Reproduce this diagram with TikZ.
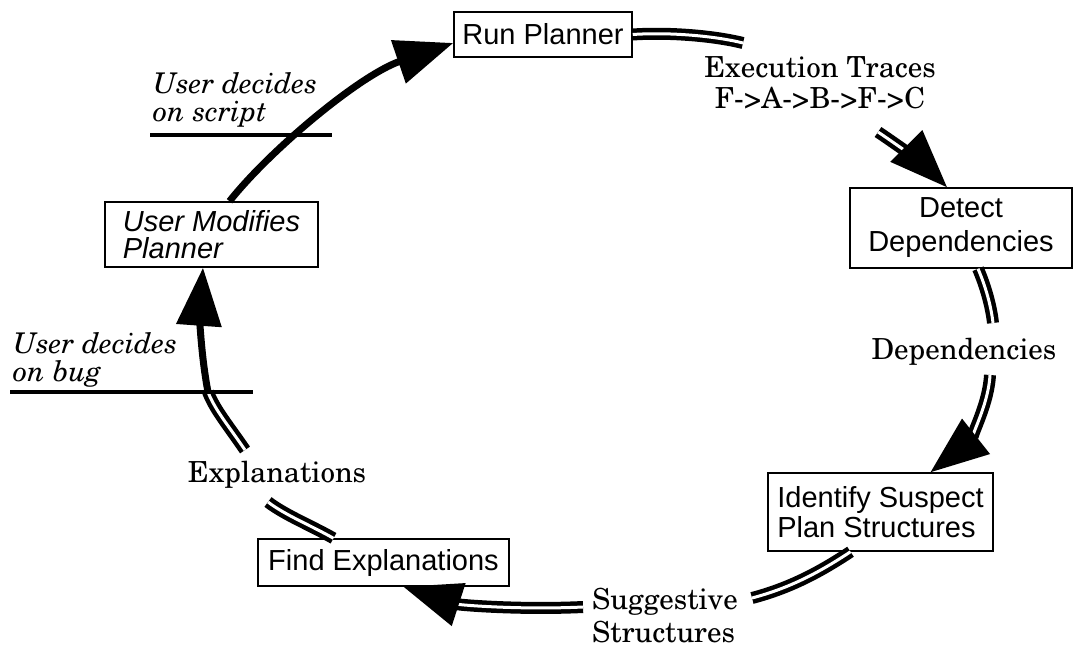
\documentclass[tikz,border=0pt]{standalone}
\usepackage[T1]{fontenc}
\usepackage{fontspec}
\setsansfont{Liberation Sans}
\usetikzlibrary{arrows.meta,calc}
\newcommand{\chr}{\fontencoding{T1}\fontfamily{pnc}\fontseries{m}\fontshape{n}\selectfont}
\newcommand{\chit}{\fontencoding{T1}\fontfamily{pnc}\fontseries{m}\fontshape{it}\selectfont}
\begin{document}
\begin{tikzpicture}[x=1pt,y=-1pt,
  box/.style={draw,line width=1.5pt,inner sep=0pt,font=\sffamily\fontsize{29}{34}\selectfont},
  lbl/.style={inner sep=0pt,font=\chr\fontsize{29}{31}\selectfont},
  ilbl/.style={inner sep=0pt,align=left,anchor=west,font=\chit\fontsize{28.5}{28}\selectfont},
  dbl/.style={line width=4.5pt,double=white,double distance=3pt},
  sgl/.style={line width=7pt},
  arrowhd/.style={-{Triangle[length=58pt,width=44pt]}},
  hline/.style={line width=3.5pt}]
\useasboundingbox (0,0) rectangle (1073,650);
% boxes
\node[box,minimum width=178pt,minimum height=45pt] (run) at (543,34.5) {Run Planner};
\node[box,minimum width=222pt,minimum height=80pt,align=center] (det) at (961,228) {Detect\\Dependencies};
\node[box,minimum width=225pt,minimum height=78pt,align=left,font=\sffamily\fontsize{29}{30}\selectfont] (ident) at (880.5,512) {Identify Suspect\\Plan Structures};
\node[box,minimum width=251pt,minimum height=47pt] (find) at (383.5,562.5) {Find Explanations};
\node[box,minimum width=213pt,minimum height=65pt,align=left,font=\sffamily\itshape\fontsize{29}{27}\selectfont] (um) at (211.5,234.5) {User Modifies\\Planner};
% labels
\node[lbl,align=center] (et) at (820,83) {Execution Traces\\F->A->B->F->C};
\node[lbl] (dep) at (964,352) {Dependencies};
\node[lbl,align=left,anchor=west,font=\chr\fontsize{29}{33}\selectfont] (sug) at (592,616) {Suggestive\\Structures};
\node[lbl] (expl) at (277,475) {Explanations};
\node[ilbl] (uds) at (153,100) {User decides\\on script};
\node[ilbl] (udb) at (13,360) {User decides\\on bug};
% free ends
\coordinate (c1) at (743,43);
\coordinate (c2) at (878,132);
\coordinate (c3) at (993,323);
\coordinate (c4) at (990,375);
\coordinate (c5) at (752,598);
\coordinate (c6) at (583,607);
\coordinate (c7) at (268,502);
\coordinate (c8) at (245,450);
\coordinate (c9) at (208,392);
\coordinate (h1a) at (150,135);
\coordinate (h1b) at (332,135);
\coordinate (h2a) at (10,392);
\coordinate (h2b) at (253,392);
% connectors
\draw[sgl,arrowhd] ($(um.north)+(18,0)$) .. controls (270,150) and (360,75) .. ($(run.west)+(0,8.5)$);
\draw[dbl] (run.east) .. controls (670,32) and (715,36) .. (c1);
\draw[dbl,arrowhd] (c2) .. controls (905,150) and (930,170) .. ($(det.north)+(-14,0)$);
\draw[dbl] ($(det.south)+(17,0)$) .. controls (985,285) and (991,305) .. (c3);
\draw[dbl,arrowhd] (c4) .. controls (988,410) and (965,445) .. ($(ident.north)+(50,0)$);
\draw[dbl] ($(ident.south)+(-30,0)$) .. controls (820,572) and (790,588) .. (c5);
\draw[dbl,arrowhd] (c6) .. controls (520,610) and (460,605) .. ($(find.south)+(20,0)$);
\draw[dbl] ($(find.north)+(-50,0)$) .. controls (310,525) and (285,515) .. (c7);
\draw[dbl] (c8) .. controls (228,425) and (215,410) .. (c9);
\draw[sgl,arrowhd] (c9) .. controls (200,350) and (200,310) .. ($(um.south)+(-8.5,0)$);
\draw[hline] (h1a) -- (h1b);
\draw[hline] (h2a) -- (h2b);
\end{tikzpicture}
\end{document}
